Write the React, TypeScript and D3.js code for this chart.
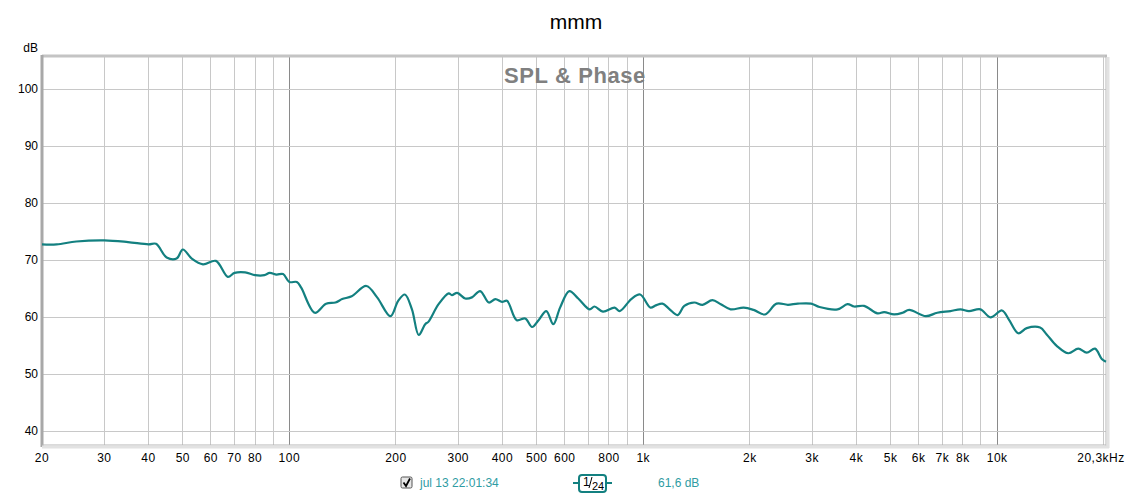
import React from "react";
import * as d3 from "d3";

const W = 1128;
const H = 497;
const PLOT = { left: 42, right: 1106, top: 57, bottom: 445 };

const freqs = [
  20, 22, 25, 30, 35, 40, 42, 45, 48, 50, 53, 57, 62, 67, 70, 75, 80, 85, 88, 92, 96,
  100, 105, 108, 118, 127, 135, 141, 150, 165, 177, 193, 203, 212, 222, 232, 242, 247,
  264, 282, 288, 298, 314, 328, 346, 366, 382, 399, 412, 439, 464, 485, 506, 532, 557,
  582, 618, 655, 705, 728, 769, 830, 858, 925, 980, 1048, 1085, 1133, 1183, 1250, 1306,
  1393, 1470, 1568, 1656, 1765, 1922, 2050, 2208, 2380, 2563, 2733, 2980, 3147, 3540,
  3776, 3942, 4207, 4590, 4793, 5114, 5402, 5642, 6284, 6772, 7380, 7877, 8318, 8968,
  9570, 10320, 10770, 11480, 12120, 13220, 13800, 14730, 15890, 16950, 17900, 18900,
  19750, 20300,
];
const spl = [
  72.8, 72.8, 73.3, 73.5, 73.2, 72.8, 72.9, 70.5, 70.3, 71.9, 70.3, 69.3, 69.9, 67.1, 67.8,
  67.9, 67.4, 67.4, 67.8, 67.5, 67.6, 66.2, 66.2, 65.2, 60.8, 62.4, 62.6, 63.2, 63.7, 65.5,
  63.5, 60.2, 62.9, 64.0, 61.4, 56.9, 58.8, 59.2, 62.3, 64.2, 63.9, 64.3, 63.3, 63.5, 64.6,
  62.6, 63.2, 62.7, 62.9, 59.5, 59.8, 58.3, 59.5, 61.1, 58.8, 61.7, 64.6, 63.3, 61.4, 61.9,
  61.0, 61.7, 61.1, 63.2, 64.0, 61.7, 62.1, 62.4, 61.5, 60.4, 62.0, 62.6, 62.2, 63.0, 62.3,
  61.4, 61.7, 61.3, 60.5, 62.4, 62.2, 62.4, 62.4, 61.8, 61.4, 62.3, 61.9, 62.0, 60.7, 60.9,
  60.5, 60.8, 61.3, 60.2, 60.8, 61.1, 61.4, 61.1, 61.4, 60.0, 61.2, 59.7, 57.2, 58.1, 58.2,
  57.0, 55.0, 53.7, 54.5, 53.8, 54.5, 52.7, 52.2,
];

const gridFreqs = [
  20, 30, 40, 50, 60, 70, 80, 90, 100, 200, 300, 400, 500, 600, 700, 800, 900, 1000, 2000,
  3000, 4000, 5000, 6000, 7000, 8000, 9000, 10000, 20000,
];
const decadeFreqs = [100, 1000, 10000];
const tickFreqs = [
  20, 30, 40, 50, 60, 70, 80, 100, 200, 300, 400, 500, 600, 800, 1000, 2000, 3000, 4000,
  5000, 6000, 7000, 8000, 10000,
];
const yTicks = [40, 50, 60, 70, 80, 90, 100];

const TEAL = "#138080";
const LEGEND = "#2f9ca3";
const FONT = "'Liberation Sans', Arial, sans-serif";

const fmtFreq = (f: number) => (f >= 1000 ? `${f / 1000}k` : `${f}`);

export default function App() {
  const x = d3.scaleLog().domain([20, 20300]).range([PLOT.left, PLOT.right]);
  const y = d3.scaleLinear().domain([37.6, 105.67]).range([PLOT.bottom, PLOT.top]);

  const line = d3
    .line<number>()
    .x((_, i) => x(freqs[i]))
    .y((d) => y(d))
    .curve(d3.curveCatmullRom.alpha(0.5));

  return (
    <svg
      width={W}
      height={H}
      style={{ position: "absolute", left: 0, top: 0, background: "#fff" }}
      fontFamily={FONT}
    >
      <text x={576} y={29} textAnchor="middle" fontSize={21} fill="#000">
        mmm
      </text>
      <text x={38} y={52} textAnchor="end" fontSize={12} fill="#000">
        dB
      </text>

      {/* grid */}
      <g>
        {gridFreqs.map((f) => (
          <line
            key={f}
            x1={x(f)}
            x2={x(f)}
            y1={PLOT.top}
            y2={PLOT.bottom}
            stroke={decadeFreqs.includes(f) ? "#8a8a8a" : "#c8c8c8"}
            strokeWidth={1}
            shapeRendering="crispEdges"
          />
        ))}
        {yTicks.map((t) => (
          <line
            key={t}
            x1={PLOT.left}
            x2={PLOT.right}
            y1={y(t)}
            y2={y(t)}
            stroke="#c8c8c8"
            shapeRendering="crispEdges"
          />
        ))}
      </g>

      <text
        x={575}
        y={83}
        textAnchor="middle"
        fontSize={22}
        fontWeight="bold"
        letterSpacing={0.6}
        fill="#808080"
      >
        SPL &amp; Phase
      </text>

      {/* frame with shading */}
      <line x1={PLOT.left} x2={PLOT.right + 1} y1={PLOT.top - 1} y2={PLOT.top - 1} stroke="#c4c4c4" strokeWidth={3} />
      <line x1={PLOT.left} x2={PLOT.left} y1={PLOT.top - 2} y2={PLOT.bottom + 2} stroke="#a8a8a8" strokeWidth={3} />
      <line x1={PLOT.right} x2={PLOT.right} y1={PLOT.top - 2} y2={PLOT.bottom + 2} stroke="#b4b4b4" strokeWidth={1} />
      <line x1={PLOT.right + 2} x2={PLOT.right + 2} y1={PLOT.top} y2={PLOT.bottom + 3} stroke="#e2e2e2" strokeWidth={3} />
      <line x1={PLOT.left} x2={PLOT.right} y1={PLOT.bottom} y2={PLOT.bottom} stroke="#b4b4b4" strokeWidth={1} />
      <line x1={PLOT.left} x2={PLOT.right + 3} y1={PLOT.bottom + 2} y2={PLOT.bottom + 2} stroke="#e2e2e2" strokeWidth={3} />

      {/* curve */}
      <path d={line(spl) ?? ""} fill="none" stroke={TEAL} strokeWidth={2.2} strokeLinejoin="round" />

      {/* axis labels */}
      {yTicks.map((t) => (
        <text key={t} x={38} y={y(t) + 4} textAnchor="end" fontSize={12} fill="#000">
          {t}
        </text>
      ))}
      {tickFreqs.map((f) => (
        <text key={f} x={x(f)} y={462} textAnchor="middle" fontSize={12} letterSpacing={0.5} fill="#000">
          {fmtFreq(f)}
        </text>
      ))}
      <text x={1101} y={462} textAnchor="middle" fontSize={12} letterSpacing={0.5} fill="#000">
        20,3kHz
      </text>

      {/* legend */}
      <g>
        <rect x={401} y={477} width={11} height={11} rx={1.5} fill="#e6e6e6" stroke="#555" />
        <path d="M403.5 482.5 L406 486 L410 478.5" fill="none" stroke="#000" strokeWidth={1.8} />
        <text x={420} y={487} fontSize={12} fill={LEGEND}>
          jul 13 22:01:34
        </text>
        <line x1={573} x2={612} y1={483} y2={483} stroke={TEAL} strokeWidth={2} />
        <rect x={579} y={475} width={27} height={17} rx={3} fill="#fff" stroke={TEAL} strokeWidth={2} />
        <text x={583} y={486} fontSize={12} fill="#000">
          1
        </text>
        <line x1={589} x2={592} y1={488} y2={477} stroke="#000" strokeWidth={1} />
        <text x={592} y={490} fontSize={11} fill="#000">
          24
        </text>
        <text x={658} y={487} fontSize={12} fill={LEGEND}>
          61,6 dB
        </text>
      </g>
    </svg>
  );
}
